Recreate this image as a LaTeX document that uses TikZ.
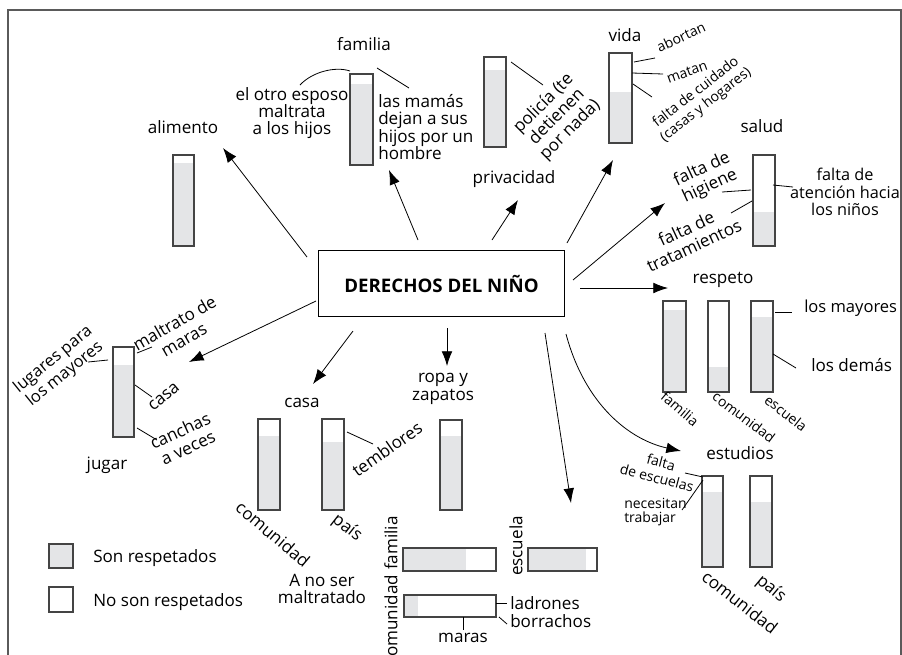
\documentclass[tikz,border=0pt]{standalone}
\usepackage{fontspec}
\setmainfont{Open Sans}
\usetikzlibrary{arrows.meta}
\definecolor{gfill}{HTML}{E4E5E7}
\definecolor{barc}{HTML}{444444}
\definecolor{framec}{HTML}{5A5A5A}
\newcommand\VBar[5]{\fill[gfill] (#1,#5) rectangle (#2,#4); \draw[barline] (#1,#3) rectangle (#2,#4);}
\newcommand\HBar[5]{\fill[gfill] (#1,#3) rectangle (#5,#4); \draw[barline] (#1,#3) rectangle (#2,#4);}
\tikzset{
  lbl/.style={inner sep=0pt, align=center, font=\fontsize{12.8}{13}\selectfont},
  sml/.style={font=\fontsize{10.5}{11}\selectfont},
  arr/.style={-{Latex[length=11pt,width=8pt]}, line width=0.6pt},
  lead/.style={line width=0.6pt},
  barline/.style={draw=barc, line width=0.8pt},
  centre/.style={draw, line width=0.8pt, minimum width=185pt, minimum height=50pt, inner sep=0pt, font=\fontsize{14}{16}\selectfont\bfseries},
}
\begin{document}
\begin{tikzpicture}[x=0.75pt,y=-0.75pt]
\clip (0,0) rectangle (902,654);
% frame
\draw[framec, line width=1.5pt] (8,660) -- (8,10) -- (901,10) -- (901,660);

% central node
\node[centre] (c) at (441.5,283.5) {DERECHOS DEL NIÑO};

% arrows
\coordinate (s1) at (307,257); \coordinate (e1) at (223,148);
\coordinate (s2) at (418,240); \coordinate (e2) at (389,170);
\coordinate (s3) at (492,240); \coordinate (e3) at (518,200);
\coordinate (s4) at (567,243); \coordinate (e4) at (613,160);
\coordinate (s5) at (573,280); \coordinate (e5) at (665,203);
\coordinate (s6) at (580,288); \coordinate (e6) at (668,288);
\coordinate (s7) at (566,334); \coordinate (e7) at (681,451);
\coordinate (s8) at (545,333); \coordinate (e8) at (571,503);
\coordinate (s9) at (447,328); \coordinate (e9) at (447,366);
\coordinate (s10) at (353,331); \coordinate (e10) at (313,384);
\coordinate (s11) at (316,301); \coordinate (e11) at (189,362);
\draw[arr] (s1) -- (e1);
\draw[arr] (s2) -- (e2);
\draw[arr] (s3) -- (e3);
\draw[arr] (s4) -- (e4);
\draw[arr] (s5) -- (e5);
\draw[arr] (s6) -- (e6);
\draw[arr] (s7) .. controls (585,405) and (630,440) .. (e7);
\draw[arr] (s8) -- (e8);
\draw[arr] (s9) -- (e9);
\draw[arr] (s10) -- (e10);
\draw[arr] (s11) -- (e11);

% alimento
\node[lbl] (alim) at (183,127) {alimento};
\VBar{173}{194}{155}{246}{163}

% familia
\node[lbl] (fam) at (364,44) {familia};
\VBar{350}{373}{74}{165}{84}
\node[lbl] (fam1) at (292,113) {el otro esposo\\maltrata\\a los hijos};
\node[lbl, align=left, anchor=west] (fam2) at (378,127) {las mamás\\dejan a sus\\hijos por un\\hombre};
\draw[lead] (300,85) .. controls (312,72) and (335,66) .. (350,71);
\draw[lead] (377,68) -- (409,88);

% privacidad
\node[lbl] (priv) at (514,179) {privacidad};
\VBar{484}{506}{57}{147}{70}
\node[lbl, rotate=45, font=\fontsize{12.8}{14}\selectfont] (pol) at (557,117) {policía (te\\detienen\\por nada)};
\draw[lead] (511,62) -- (543,85);

% vida
\node[lbl] (vida) at (625,35) {vida};
\VBar{609}{632}{53}{143}{92}
\node[lbl, sml, rotate=25] (abo) at (681,37) {abortan};
\node[lbl, sml, rotate=20] (mat) at (687,72) {matan};
\node[lbl, rotate=38, font=\fontsize{10.5}{12}\selectfont] (fcu) at (701,99) {falta de cuidado\\(casas y hogares)};
\draw[lead] (634,62) -- (655,58);
\draw[lead] (632,73) -- (663,74);
\draw[lead] (633,84) -- (652,97);

% salud
\node[lbl] (salud) at (762,126) {salud};
\VBar{753}{775}{155}{246}{212}
\node[lbl, rotate=25, font=\fontsize{12.8}{14}\selectfont] (hig) at (706,178) {falta de\\higiene};
\node[lbl, rotate=25, font=\fontsize{12.8}{14}\selectfont] (trat) at (690,237) {falta de\\tratamientos};
\node[lbl, font=\fontsize{12.2}{13}\selectfont] (aten) at (845,192) {falta de\\atención hacia\\los niños};
\draw[lead] (773,185) -- (793,187);
\draw[lead] (722,192) -- (751,190);
\draw[lead] (731,213) -- (752,201);

% respeto
\node[lbl] (resp) at (723,280) {respeto};
\VBar{663}{686}{301}{392}{310}
\VBar{708}{729}{301}{392}{367}
\VBar{751}{773}{301}{392}{317}
\node[lbl, anchor=west, font=\fontsize{12.4}{13}\selectfont] (may) at (804,308) {los mayores};
\node[lbl, anchor=west] (dem) at (811,365) {los demás};
\draw[lead] (775,312) -- (792,312);
\draw[lead] (773,354) -- (796,368);
\node[lbl, sml, rotate=-40] (rf) at (680,409) {familia};
\node[lbl, sml, rotate=-37] (rc) at (744,417) {comunidad};
\node[lbl, sml, rotate=-38] (re) at (786,413) {escuela};

% estudios
\node[lbl] (est) at (740,453) {estudios};
\VBar{702}{723}{476}{567}{492}
\VBar{750}{772}{476}{567}{502}
\node[lbl, rotate=-15, font=\fontsize{10.5}{12}\selectfont] (fesc) at (659,470) {falta\\de escuelas};
\node[lbl, anchor=west, align=left, sml] (nec) at (624,512) {necesitan\\trabajar};
\draw[lead] (685,473) -- (703,477);
\draw[lead] (682,510) -- (703,480);
\node[lbl, rotate=-38] (ec) at (740,602) {comunidad};
\node[lbl, rotate=-40] (ep) at (771,589) {país};

% ropa y zapatos
\node[lbl] (ropa) at (443,389) {ropa y\\zapatos};
\VBar{440}{462}{420}{510}{436}
\HBar{403}{496}{548}{571}{466}
\HBar{528}{597}{548}{571}{586}
\HBar{404}{496}{595}{617}{418}
\node[lbl, rotate=90] (hf) at (391,543) {familia};
\node[lbl, rotate=90] (he) at (516,546) {escuela};
\node[lbl, rotate=90] (hc) at (391,620) {comunidad};
\node[lbl, anchor=west] (ladr) at (510,603) {ladrones};
\node[lbl, anchor=west] (borr) at (510,621) {borrachos};
\node[lbl] (mar) at (463,638) {maras};
\draw[lead] (496,603) -- (507,603);
\draw[lead] (499,617) -- (507,624);
\draw[lead] (463,617) -- (463,630);

% casa
\node[lbl] (casa) at (302,403) {casa};
\VBar{258}{280}{419}{510}{436}
\VBar{322}{344}{419}{510}{442}
\node[lbl, rotate=35] (temb) at (387,449) {temblores};
\draw[lead] (347,432) -- (373,444);
\node[lbl, rotate=-40] (cc) at (273,534) {comunidad};
\node[lbl, rotate=-38] (cp) at (347,528) {país};
\node[lbl] (nomal) at (322,589) {A no ser\\maltratado};

% jugar
\node[lbl] (jug) at (107,465) {jugar};
\VBar{113}{134}{347}{437}{365}
\node[lbl, rotate=39, font=\fontsize{12.4}{14}\selectfont] (lug) at (59,367) {lugares para\\los mayores};
\node[lbl, rotate=30, font=\fontsize{12.8}{14}\selectfont] (mal) at (179,331) {maltrato de\\maras};
\node[lbl, rotate=40] (jc) at (164,397) {casa};
\node[lbl, rotate=25, font=\fontsize{12.8}{14}\selectfont] (can) at (184,439) {canchas\\a veces};
\draw[lead] (88,362) -- (108,360);
\draw[lead] (137,353) -- (152,347);
\draw[lead] (135,385) -- (152,397);
\draw[lead] (137,428) -- (157,440);

% legend
\fill[gfill] (49,544) rectangle (73,568);
\draw[barline] (49,544) rectangle (73,568);
\draw[barline] (49,587) rectangle (73,612);
\node[lbl, anchor=west] (l1) at (93,558) {Son respetados};
\node[lbl, anchor=west] (l2) at (93,602) {No son respetados};
\end{tikzpicture}
\end{document}
